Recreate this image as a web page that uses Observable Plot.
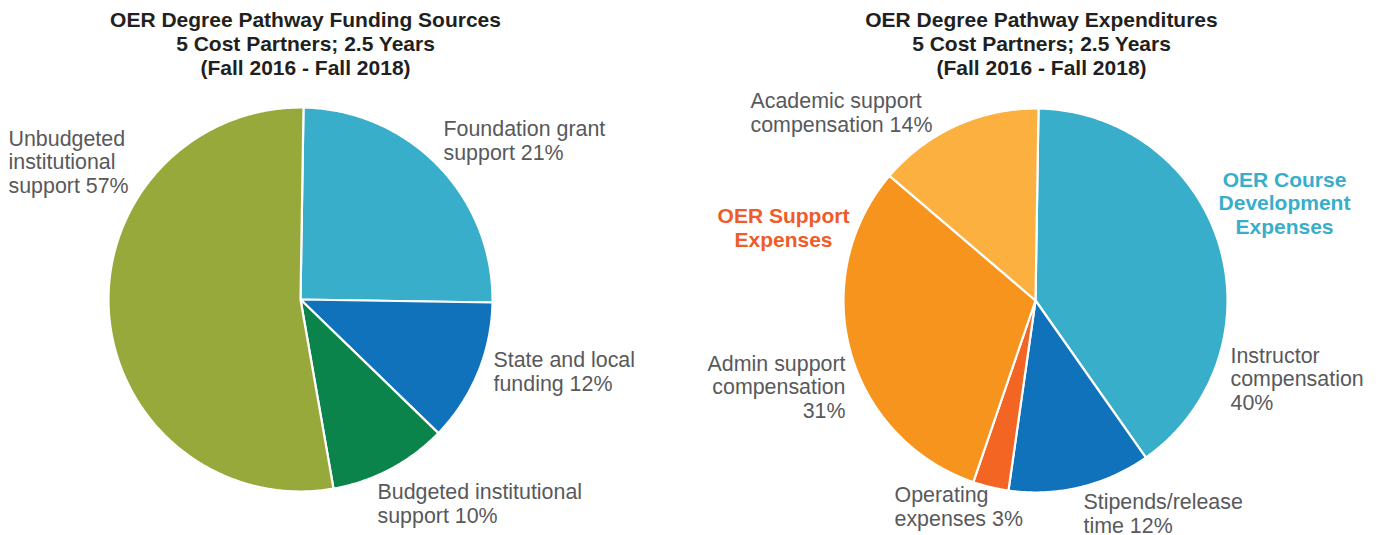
<!DOCTYPE html>
<html>
<head>
<meta charset="utf-8">
<script src="https://cdn.jsdelivr.net/npm/d3@7"></script>
<script src="https://cdn.jsdelivr.net/npm/@observablehq/plot@0.6"></script>
<style>
  html, body { margin: 0; padding: 0; background: #fff; }
  #chart svg { display: block; }
</style>
</head>
<body>
<div id="chart"></div>
<script>
// ---------------- Data ----------------
const fundingTitle = ["OER Degree Pathway Funding Sources", "5 Cost Partners; 2.5 Years", "(Fall 2016 - Fall 2018)"];
const expenditureTitle = ["OER Degree Pathway Expenditures", "5 Cost Partners; 2.5 Years", "(Fall 2016 - Fall 2018)"];

const fundingCategories = ["Foundation grant support", "State and local funding", "Budgeted institutional support", "Unbudgeted institutional support"];
// share of the circle each slice covers as drawn (percent)
const fundingShares = [25, 12, 10, 53];
// percentages printed on the labels
const fundingLabelPct = [21, 12, 10, 57];
const fundingLabelText = ["Foundation grant\nsupport", "State and local\nfunding", "Budgeted institutional\nsupport", "Unbudgeted\ninstitutional\nsupport"];

const expenditureCategories = ["Instructor compensation", "Stipends/release time", "Operating expenses", "Admin support compensation", "Academic support compensation"];
const expenditureShares = [40, 12, 3, 31, 14];
const expenditureLabelPct = [40, 12, 3, 31, 14];
const expenditureLabelText = ["Instructor\ncompensation\n", "Stipends/release\ntime", "Operating\nexpenses", "Admin support\ncompensation\n", "Academic support\ncompensation"];

const groupNames = ["OER Course\nDevelopment\nExpenses", "OER Support\nExpenses"];

// ---------------- Styles / layout ----------------
const W = 1378, H = 535;
const fundingColors = ["#38aeca", "#1072ba", "#0b844c", "#97a93b"];
const expenditureColors = ["#38aeca", "#1072ba", "#f26522", "#f7941e", "#fbb040"];
const groupColors = ["#38aeca", "#f15a29"];
const labelGray = "#58595b";
const titleColor = "#231f20";
const FONT = "'Liberation Sans', Arial, Helvetica, sans-serif";

const pies = [
  {cx: 300, cy: 299, r: 192, startDeg: 0.9, cats: fundingCategories, shares: fundingShares},
  {cx: 1035, cy: 300, r: 192, startDeg: 0.9, cats: expenditureCategories, shares: expenditureShares}
];

// label placement: x, baseline of last line, anchor
const fundingLabelPos = [
  {x: 443, y: 159, anchor: "start"},
  {x: 493, y: 390, anchor: "start"},
  {x: 377, y: 522, anchor: "start"},
  {x: 8, y: 192, anchor: "start"}
];
const expenditureLabelPos = [
  {x: 1230, y: 409, anchor: "start"},
  {x: 1083, y: 532, anchor: "start"},
  {x: 894, y: 525, anchor: "start"},
  {x: 845, y: 417, anchor: "end"},
  {x: 750, y: 131, anchor: "start"}
];
const groupPos = [
  {x: 1284, y: 233.5},
  {x: 783, y: 246.5}
];
const titlePos = [{x: 305, y: 74}, {x: 1041, y: 74}];

// ---------------- Build rows ----------------
const sliceRows = [];
for (const p of pies) {
  const a0 = p.startDeg * Math.PI / 180;
  const arcs = d3.pie().sort(null).startAngle(a0).endAngle(a0 + 2 * Math.PI)(p.shares);
  arcs.forEach((a, i) => {
    const cat = p.cats[i];
    sliceRows.push({cat, x: p.cx, y: p.cy});
    const n = Math.max(2, Math.ceil((a.endAngle - a.startAngle) / (Math.PI / 360)));
    for (let k = 0; k <= n; k++) {
      const t = a.startAngle + (a.endAngle - a.startAngle) * k / n;
      sliceRows.push({cat, x: p.cx + p.r * Math.sin(t), y: p.cy - p.r * Math.cos(t)});
    }
  });
}

const labelRows = [];
fundingCategories.forEach((c, i) => {
  labelRows.push({text: `${fundingLabelText[i]} ${fundingLabelPct[i]}%`, ...fundingLabelPos[i]});
});
expenditureCategories.forEach((c, i) => {
  const t = expenditureLabelText[i];
  const txt = t.endsWith("\n") ? `${t}${expenditureLabelPct[i]}%` : `${t} ${expenditureLabelPct[i]}%`;
  labelRows.push({text: txt, ...expenditureLabelPos[i]});
});

const groupRows = groupNames.map((g, i) => ({text: g, color: groupColors[i], ...groupPos[i]}));
const titleRows = [fundingTitle, expenditureTitle].map((t, i) => ({text: t.join("\n"), ...titlePos[i]}));

const labelStyle = {x: "x", y: "y", text: "text", lineAnchor: "bottom", lineHeight: 1.08, fontSize: 21.4, fill: labelGray};

// ---------------- Plot ----------------
const chart = Plot.plot({
  width: W,
  height: H,
  margin: 0,
  x: {domain: [0, W], range: [0, W], axis: null},
  y: {domain: [0, H], range: [0, H], axis: null},
  color: {domain: [...fundingCategories, ...expenditureCategories], range: [...fundingColors, ...expenditureColors]},
  style: {fontFamily: FONT, background: "#fff", overflow: "visible"},
  marks: [
    Plot.line(sliceRows, {x: "x", y: "y", z: "cat", fill: "cat", stroke: "white", strokeWidth: 2.2, strokeLinejoin: "round", curve: "linear-closed"}),
    Plot.text(titleRows, {x: "x", y: "y", text: "text", textAnchor: "middle", lineAnchor: "bottom", lineHeight: 1.13, fontSize: 21, fontWeight: "bold", fill: titleColor}),
    Plot.text(labelRows.filter(d => d.anchor === "start"), {...labelStyle, textAnchor: "start"}),
    Plot.text(labelRows.filter(d => d.anchor === "end"), {...labelStyle, textAnchor: "end"}),
    Plot.text(groupRows, {x: "x", y: "y", text: "text", textAnchor: "middle", lineAnchor: "bottom", lineHeight: 1.12, fontSize: 21, fontWeight: "bold", fill: d => d.color})
  ]
});
document.getElementById("chart").appendChild(chart);
</script>
</body>
</html>
